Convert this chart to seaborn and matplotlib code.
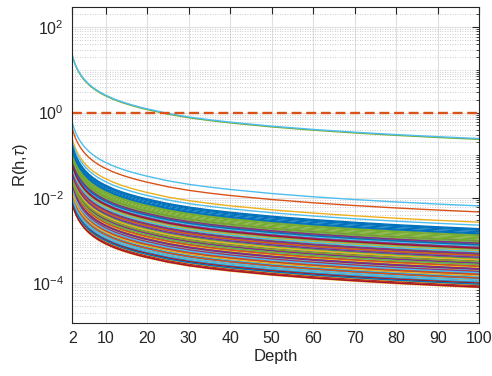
import numpy as np
import pandas as pd
import matplotlib.pyplot as plt
import matplotlib.ticker as mticker
import seaborn as sns

# common curve shape (R at each depth)
depth = [2, 2.25, 2.5, 2.75, 3, 3.5, 4, 4.5, 5, 6, 7, 8, 9, 10, 12, 14, 16, 18,
         20, 25, 30, 35, 40, 50, 60, 70, 80, 90, 100]
shape = [21.7, 17.9, 15.2, 13.1, 11.5, 9.27, 7.73, 6.61, 5.75, 4.58, 3.81, 3.26,
         2.85, 2.54, 2.07, 1.76, 1.53, 1.35, 1.21, 0.944, 0.78, 0.671, 0.59,
         0.475, 0.398, 0.343, 0.301, 0.269, 0.243]

# value of each curve at depth 100
top_end = [0.236, 0.246]
top_colors = ["#77AC30", "#4DBEEE"]
mid_end = [6.5e-3, 4.7e-3, 2.7e-3, 2.3e-3]
mid_colors = ["#4DBEEE", "#D95319", "#EDB120", "#4DBEEE"]
# log10 of the value at depth 100 for the dense bundle
bundle_log_end = [
    -2.72, -3.05, -3.40, -3.18, -2.86, -3.55, -3.90,
    -2.74, -3.28, -3.12, -3.36, -2.90, -3.62, -4.02,
    -2.76, -3.48, -3.70, -3.08, -2.93, -3.22, -4.08,
    -2.79, -3.85, -3.97, -3.44, -2.96, -3.02, -3.74,
    -2.82, -3.66, -3.58, -3.25, -2.88, -3.80, -3.33,
    -3.42, -3.14, -3.87, -3.00, -3.06, -3.38, -3.97,
    -3.52, -3.94, -4.05, -3.29, -3.11, -3.69, -3.60,
    -3.64, -3.72, -3.50, -3.53, -3.20, -3.13, -3.88,
    -3.86, -4.00, -4.10, -3.82, -3.34, -3.46, -4.06,
    -3.77, -3.98, -3.92, -3.16, -2.99, -3.57, -3.67,
    -3.10, -3.78, -3.24, -3.73, -3.27, -3.84, -4.00,
    -3.90, -4.08, -3.63, -3.31, -3.43, -3.91, -3.49,
    -3.96, -3.35, -3.45, -3.06, -3.49, -3.26, -3.81,
    -2.84, -3.60, -4.03, -3.66, -3.56, -3.75, -3.18,
    -4.02, -3.88, -3.82, -3.39, -3.02, -3.95, -4.09,
]
matlab_colors = ["#0072BD", "#D95319", "#EDB120", "#7E2F8E",
                 "#77AC30", "#4DBEEE", "#A2142F"]
threshold = 1.0

ends = top_end + mid_end + [10 ** v for v in bundle_log_end]
colors = top_colors + mid_colors + [matlab_colors[i % 7] for i in range(len(bundle_log_end))]

shape_arr = np.array(shape)
rows = []
for k, e in enumerate(ends):
    vals = shape_arr / shape_arr[-1] * e
    for d, v in zip(depth, vals):
        rows.append({"depth": d, "R": v, "curve": f"c{k:03d}"})
df = pd.DataFrame(rows)

sns.set_style("white")
plt.rcParams["font.family"] = ["Liberation Sans", "DejaVu Sans"]
plt.rcParams["mathtext.fontset"] = "custom"
plt.rcParams["mathtext.rm"] = "Liberation Sans"
plt.rcParams["mathtext.it"] = "Liberation Sans:italic"

fig = plt.figure(figsize=(4.92, 3.76), dpi=100)
ax = fig.add_axes([0.147, 0.142, 0.827, 0.839])

sns.lineplot(data=df, x="depth", y="R", hue="curve", palette=colors,
             legend=False, estimator=None, lw=1.0, ax=ax)
ax.axhline(threshold, color="#D95319", lw=1.7, ls=(0, (4.2, 2.0)))

ax.set_yscale("log")
ax.set_xlim(2, 100)
ax.set_ylim(1.2e-5, 295)
ax.set_xticks([2, 10, 20, 30, 40, 50, 60, 70, 80, 90, 100])
ax.yaxis.set_major_locator(mticker.FixedLocator([1e-4, 1e-2, 1, 1e2]))
ax.yaxis.set_minor_locator(mticker.LogLocator(base=10, subs=np.arange(1, 10), numticks=50))
ax.yaxis.set_minor_formatter(mticker.NullFormatter())

ax.set_axisbelow(True)
ax.grid(which="major", color="#e0e0e0", lw=0.8, ls="-")
ax.yaxis.grid(which="minor", color="#bdbdbd", lw=0.6, ls=(0, (1, 2)))

ax.tick_params(which="both", direction="in", top=True, right=True,
               colors="#262626", labelsize=11.5)
ax.tick_params(which="major", length=5, width=0.8)
ax.tick_params(which="minor", length=2.5, width=0.6)
ax.tick_params(axis="x", which="major", pad=6)
ax.tick_params(axis="y", which="major", pad=6)
for s in ax.spines.values():
    s.set_color("#262626")
    s.set_linewidth(0.8)

ax.set_xlabel("Depth", fontsize=12, color="#262626", labelpad=2)
ax.set_ylabel(r"R(h,$\tau$)", fontsize=12, color="#262626", labelpad=1)

fig.savefig("out.png", dpi=100)
